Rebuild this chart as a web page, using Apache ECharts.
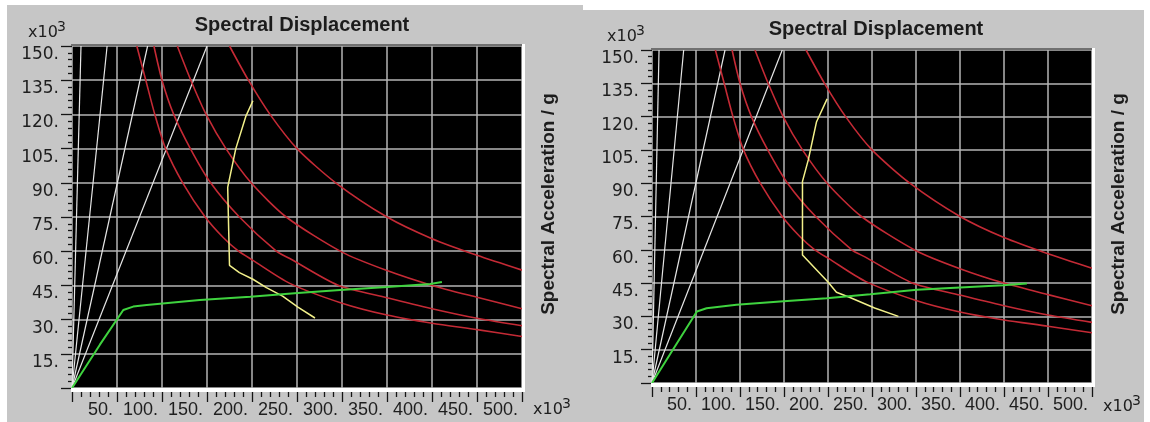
<!DOCTYPE html>
<html><head><meta charset="utf-8">
<script src="https://cdn.jsdelivr.net/npm/echarts@6/dist/echarts.min.js"></script>
<style>html,body{margin:0;padding:0;background:#fff;}#c{width:1150px;height:422px;}</style>
</head><body><div id="c"></div>
<script>
// ---- text ----
const titleText = 'Spectral Displacement';
const sideTitle = 'Spectral Acceleration / g';
const unitBase = 'x10';
const unitExp = '3';

// ---- axis ranges (x10^3) ----
const xRange = [0, 500, 50];
const yRange = [0, 150, 15];

// ---- demand spectra (red), same in both panels ----
const redA = [[72,150],[82,135],[92,120],[104,105],[123,90],[148,75],[168,66],[185,60],[201,56],[242,45.9],[300,37.2],[350,32],[400,28.4],[450,25.6],[500,22.6]];
const redB = [[91,150],[100,135],[113,120],[131.5,105],[154,90],[186,75],[227,60],[242,56.8],[295,45.2],[350,39.6],[400,34.8],[450,30.6],[500,27.3]];
const redC = [[117,150],[132,135],[149,120],[171,105],[199,90],[238,75],[300,59.6],[350,51.5],[400,45],[450,39.8],[500,34.8]];
const redD = [[175,150],[196,135],[220,120],[250,105],[293,90],[350,75],[400,65.5],[450,58.2],[500,51.7]];

// ---- period lines (white) ----
const whiteL = [[[0,0],[10,150]],[[0,0],[39,150]],[[0,0],[84,150]],[[0,0],[150,150]]];
const whiteR = [[[0,0],[8,150]],[[0,0],[36,150]],[[0,0],[83,150]],[[0,0],[148,150]]];

// ---- performance curve (yellow) ----
const yellowL = [[201,126],[193,119],[182,105],[173,88],[175,53.8],[186,50.6],[201,47.7],[216,44],[234,40.3],[251,35.5],[270,30.7]];
const yellowR = [[199,128],[187,117.7],[177.6,100.5],[171,90.8],[171,57.7],[200,45.5],[209.6,40.9],[225,38.5],[253,33.8],[280,30]];

// ---- capacity curve (green) ----
const greenL = [[0,0],[31,19],[57,34.2],[68,35.7],[83,36.4],[142,38.6],[198,40],[251,41.7],[298,43],[350,44.3],[398,45.6],[411,46.5]];
const greenR = [[0,0],[51,32.2],[62,33.7],[96,35.2],[145.5,36.7],[198.5,38.2],[248,40],[301,42],[350,43],[399,44],[426,44.8]];

// ---- layout ----
const panels = [
  {left:72, top:46, w:450, h:342, title:[302,25], side:[549,204], unitTop:[28,33], unitBot:[533,410], white:whiteL, yellow:yellowL, green:greenL},
  {left:652, top:50, w:440, h:333, title:[876,29], side:[1119,204], unitTop:[607,37], unitBot:[1103,407], white:whiteR, yellow:yellowR, green:greenR}
];

const grids = [], xAxes = [], yAxes = [], series = [], graphics = [];
const fmt = v => v === 0 ? '' : v + '.';
const labelColor = '#1e1e1e';
const tickColor = '#151515';

panels.forEach((p, i) => {
  grids.push({left:p.left, top:p.top, width:p.w, height:p.h, show:true, backgroundColor:'#000', borderWidth:0, containLabel:false});
  xAxes.push({
    gridIndex:i, type:'value', min:xRange[0], max:xRange[1], interval:xRange[2],
    axisLine:{show:false},
    axisTick:{show:true, inside:false, length:14, lineStyle:{color:tickColor, width:1.3}},
    minorTick:{show:true, splitNumber:5, length:9, lineStyle:{color:tickColor, width:1.3}},
    splitLine:{show:true, lineStyle:{color:'#b4b4b4', width:1.5}},
    axisLabel:{formatter:fmt, align:'right', padding:[0,4,0,0], margin:13, verticalAlign:'top',
      fontFamily:'"Liberation Sans Narrow", "Liberation Sans", sans-serif', fontSize:18, color:labelColor}
  });
  yAxes.push({
    gridIndex:i, type:'value', min:yRange[0], max:yRange[1], interval:yRange[2],
    axisLine:{show:false},
    axisTick:{show:true, inside:false, length:11, lineStyle:{color:tickColor, width:1.3}},
    minorTick:{show:true, splitNumber:5, length:4, lineStyle:{color:tickColor, width:1.3}},
    splitLine:{show:true, lineStyle:{color:'#b4b4b4', width:1.5}},
    axisLabel:{formatter:fmt, margin:13, verticalAlign:'top',
      fontFamily:'"DejaVu Sans", sans-serif', fontSize:17, color:labelColor}
  });
  const line = (data, color, width) => ({type:'line', xAxisIndex:i, yAxisIndex:i, data:data, showSymbol:false, symbol:'none',
    lineStyle:{color:color, width:width}, z:3, silent:true});
  p.white.forEach(d => series.push(line(d, '#e6e6e6', 1.2)));
  [redA, redB, redC, redD].forEach(d => { const s = line(d, '#c42a35', 1.6); s.smooth = 0.25; series.push(s); });
  series.push(line(p.yellow, '#f2f08a', 1.5));
  series.push(line(p.green, '#3fd33f', 2));

  // 3D frame of the plot area
  graphics.push({type:'rect', z:100, shape:{x:p.left-1, y:p.top-2, width:p.w+2, height:2}, style:{fill:'#707070'}});
  graphics.push({type:'rect', z:100, shape:{x:p.left+p.w, y:p.top-2, width:3, height:p.h+6}, style:{fill:'#ffffff'}});
  graphics.push({type:'rect', z:100, shape:{x:p.left-1, y:p.top+p.h, width:p.w+4, height:4}, style:{fill:'#ffffff'}});
  // titles
  graphics.push({type:'text', z:100, x:p.title[0], y:p.title[1], style:{text:titleText, font:'bold 20px "Liberation Sans", Arial, sans-serif', fill:'#1c1c1c', align:'center', verticalAlign:'middle', textAlign:'center', textVerticalAlign:'middle'}});
  graphics.push({type:'text', z:100, x:p.side[0], y:p.side[1], rotation:Math.PI/2, style:{text:sideTitle, font:'bold 19px "Liberation Sans", Arial, sans-serif', fill:'#1c1c1c', align:'center', verticalAlign:'middle', textAlign:'center', textVerticalAlign:'middle'}});
  // units x10^3
  [p.unitTop, p.unitBot].forEach(u => {
    graphics.push({type:'text', z:100, x:u[0], y:u[1], style:{text:unitBase, font:'16px "DejaVu Sans", sans-serif', fill:labelColor, align:'left', verticalAlign:'middle', textAlign:'left', textVerticalAlign:'middle'}});
    graphics.push({type:'text', z:100, x:u[0]+29, y:u[1]-6, style:{text:unitExp, font:'14px "DejaVu Sans", sans-serif', fill:labelColor, align:'left', verticalAlign:'middle', textAlign:'left', textVerticalAlign:'middle'}});
  });
});

// white page margins around the two grey panels
graphics.push({type:'rect', z:90, shape:{x:0, y:0, width:7, height:422}, style:{fill:'#fff'}});
graphics.push({type:'rect', z:90, shape:{x:0, y:0, width:583, height:5}, style:{fill:'#fff'}});
graphics.push({type:'rect', z:90, shape:{x:583, y:0, width:567, height:10}, style:{fill:'#fff'}});
graphics.push({type:'rect', z:90, shape:{x:1144, y:0, width:6, height:422}, style:{fill:'#fff'}});

const chart = echarts.init(document.getElementById('c'), null, {renderer:'canvas'});
chart.setOption({
  animation:false,
  backgroundColor:'#c6c6c6',
  grid:grids, xAxis:xAxes, yAxis:yAxes, series:series, graphic:graphics
});
</script></body></html>
